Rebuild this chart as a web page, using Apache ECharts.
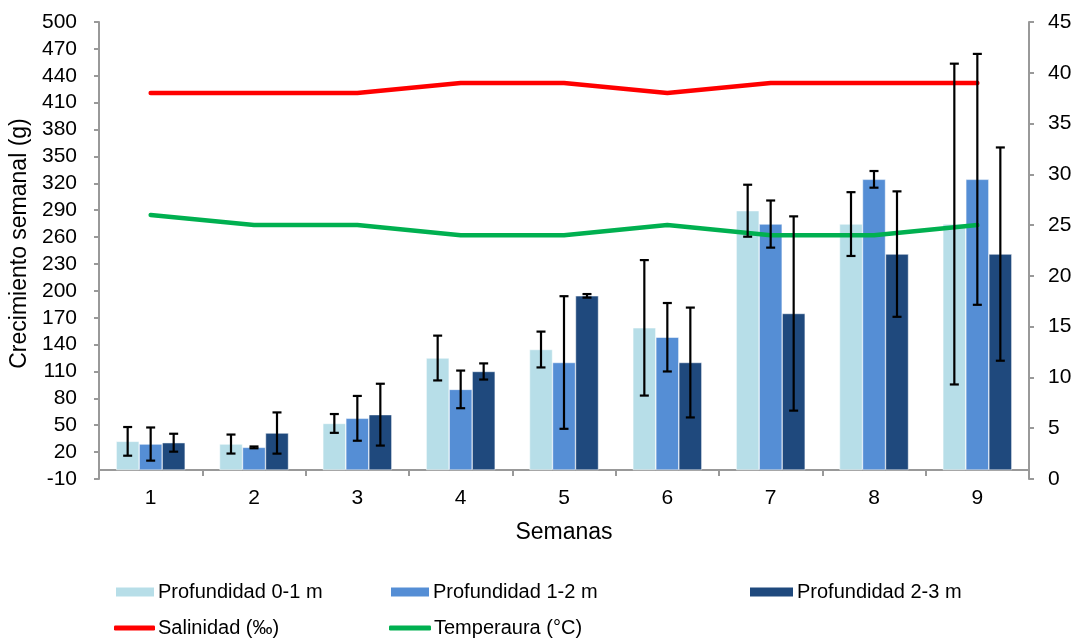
<!DOCTYPE html>
<html>
<head>
<meta charset="utf-8">
<script src="https://cdn.jsdelivr.net/npm/echarts@6/dist/echarts.min.js"></script>
<style>html,body{margin:0;padding:0;background:#fff;}#c{width:1082px;height:639px;}</style>
</head>
<body>
<div id="c"></div>
<script>
var categories = ['1','2','3','4','5','6','7','8','9'];
var prof01 = [32, 29, 52, 125, 134.5, 158.7, 289.4, 274.5, 274.5];
var prof01Err = [16, 10.6, 10.5, 25, 20, 75.6, 29, 35.6, 179];
var prof12 = [29, 25.3, 57.7, 90, 120, 148.2, 274.5, 324.4, 324.4];
var prof12Err = [18.5, 1, 25, 21, 74, 38.2, 26.3, 9.3, 140];
var prof23 = [30.5, 41.3, 61.8, 110, 194.4, 120, 174.7, 241, 241];
var prof23Err = [10, 23, 34.5, 9, 2, 61.3, 108.4, 70, 119];
var salinidad = [38, 38, 38, 39, 39, 38, 39, 39, 39];
var temperatura = [26, 25, 25, 24, 24, 25, 24, 24, 25];

var FONT = 'Liberation Sans, Arial, sans-serif';
var BAR_W = 23;

function errData(means, errs) {
  return means.map(function (m, i) { return [i, m - errs[i], m + errs[i]]; });
}
function errRender(offset) {
  return function (params, api) {
    var lo = api.coord([api.value(0), api.value(1)]);
    var hi = api.coord([api.value(0), api.value(2)]);
    var cx = lo[0] + offset;
    var hw = 4.5;
    var st = { stroke: '#000', lineWidth: 2.2 };
    return {
      type: 'group',
      children: [
        { type: 'line', shape: { x1: cx, y1: hi[1], x2: cx, y2: lo[1] }, style: st },
        { type: 'line', shape: { x1: cx - hw, y1: hi[1], x2: cx + hw, y2: hi[1] }, style: st },
        { type: 'line', shape: { x1: cx - hw, y1: lo[1], x2: cx + hw, y2: lo[1] }, style: st }
      ]
    };
  };
}
function errSeries(means, errs, offset) {
  return {
    type: 'custom', xAxisIndex: 0, yAxisIndex: 0, z: 10,
    renderItem: errRender(offset), data: errData(means, errs),
    encode: { x: 0, y: [1, 2] }, silent: true, tooltip: { show: false }
  };
}

var chart = echarts.init(document.getElementById('c'), null, { renderer: 'canvas' });
var tick = { fontFamily: FONT, fontSize: 21, color: '#000' };
var title = { fontFamily: FONT, fontSize: 23, color: '#000' };
function legendAt(name, left, top, w, h) {
  return {
    data: [name], left: left, top: top, itemWidth: w, itemHeight: h, itemGap: 0,
    textStyle: { fontFamily: FONT, fontSize: 20, color: '#000', padding: [0, 0, 0, -2] },
    selectedMode: false, padding: 0
  };
}
var option = {
  animation: false,
  grid: { left: 99, right: 53, top: 22, bottom: 160, containLabel: false },
  legend: [
    Object.assign(legendAt('Profundidad 0-1 m', 114, 582, 40, 11), { icon: 'rect' }),
    Object.assign(legendAt('Profundidad 1-2 m', 389, 582, 40, 11), { icon: 'rect' }),
    Object.assign(legendAt('Profundidad 2-3 m', 748, 582, 45, 11), { icon: 'rect' }),
    Object.assign(legendAt('Salinidad (‰)', 114, 618, 41, 5), { icon: 'roundRect' }),
    Object.assign(legendAt('Temperaura (°C)', 389, 618, 42, 5), { icon: 'roundRect' })
  ],
  xAxis: {
    type: 'category', data: categories,
    name: 'Semanas', nameLocation: 'middle', nameGap: 42,
    nameTextStyle: title,
    axisLine: { onZero: true, onZeroAxisIndex: 0, lineStyle: { color: '#999', width: 2 } },
    axisTick: { show: true, length: 6, lineStyle: { color: '#999', width: 2 } },
    axisLabel: Object.assign({ margin: 9 }, tick),
    splitLine: { show: false }
  },
  yAxis: [
    {
      type: 'value', min: -10, max: 500, interval: 30,
      name: 'Crecimiento semanal (g)', nameLocation: 'middle', nameGap: 67, nameRotate: 90,
      nameTextStyle: Object.assign({ padding: [0, 0, 0, 14] }, title),
      axisLine: { show: true, lineStyle: { color: '#999', width: 2 } },
      axisTick: { show: true, length: 5, lineStyle: { color: '#999', width: 2 } },
      axisLabel: Object.assign({ margin: 22 }, tick),
      splitLine: { show: false }
    },
    {
      type: 'value', min: 0, max: 45, interval: 5, position: 'right',
      axisLine: { show: true, lineStyle: { color: '#999', width: 2 } },
      axisTick: { show: true, length: 5, lineStyle: { color: '#999', width: 2 } },
      axisLabel: Object.assign({ margin: 19 }, tick),
      splitLine: { show: false }
    }
  ],
  series: [
    { name: 'Profundidad 0-1 m', type: 'bar', data: prof01, barWidth: BAR_W, barGap: '0%',
      itemStyle: { color: '#B7DEE8', borderColor: '#fff', borderWidth: 0.5 } },
    { name: 'Profundidad 1-2 m', type: 'bar', data: prof12, barWidth: BAR_W, barGap: '0%',
      itemStyle: { color: '#558ED5', borderColor: '#fff', borderWidth: 0.5 } },
    { name: 'Profundidad 2-3 m', type: 'bar', data: prof23, barWidth: BAR_W, barGap: '0%',
      itemStyle: { color: '#1F497D', borderColor: '#fff', borderWidth: 0.5 } },
    { name: 'Salinidad (‰)', type: 'line', yAxisIndex: 1, data: salinidad, symbol: 'none', z: 5,
      lineStyle: { color: '#FF0000', width: 4.5, cap: 'round', join: 'round' }, itemStyle: { color: '#FF0000' } },
    { name: 'Temperaura (°C)', type: 'line', yAxisIndex: 1, data: temperatura, symbol: 'none', z: 5,
      lineStyle: { color: '#00B050', width: 4.5, cap: 'round', join: 'round' }, itemStyle: { color: '#00B050' } },
    errSeries(prof01, prof01Err, -BAR_W),
    errSeries(prof12, prof12Err, 0),
    errSeries(prof23, prof23Err, BAR_W)
  ]
};
chart.setOption(option);
</script>
</body>
</html>
